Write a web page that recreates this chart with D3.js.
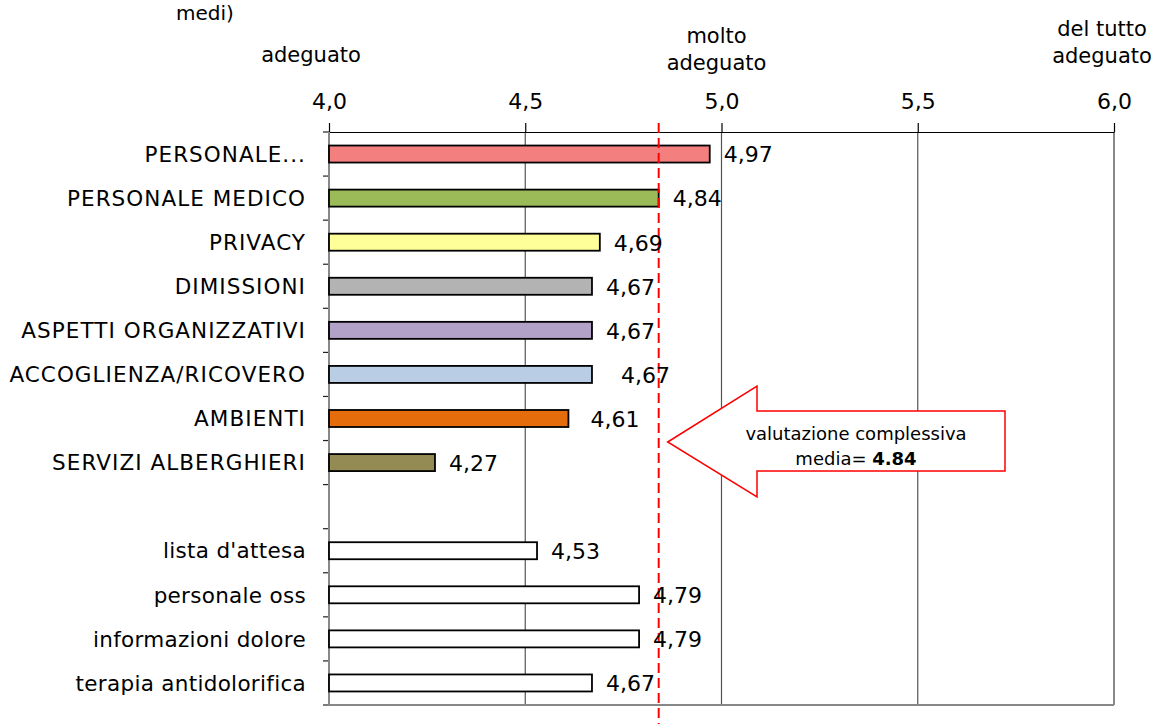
<!DOCTYPE html>
<html><head><meta charset="utf-8">
<script src="https://cdn.jsdelivr.net/npm/d3@7"></script>
<style>
html,body{margin:0;padding:0;background:#fff;}
svg{display:block;font-family:"DejaVu Sans",Verdana,sans-serif;}
</style></head>
<body><svg id="c" width="1155" height="724"></svg>
<script>
// ---- data ----
const categories = ["PERSONALE...", "PERSONALE MEDICO", "PRIVACY", "DIMISSIONI", "ASPETTI ORGANIZZATIVI",
  "ACCOGLIENZA/RICOVERO", "AMBIENTI", "SERVIZI ALBERGHIERI", "",
  "lista d'attesa", "personale oss", "informazioni dolore", "terapia antidolorifica"];
const values = [4.97, 4.84, 4.69, 4.67, 4.67, 4.67, 4.61, 4.27, null, 4.53, 4.79, 4.79, 4.67];
const colors = ["#F47F7F", "#9BBB59", "#FFFF99", "#B3B3B3", "#B3A2C7", "#B9CDE5", "#E46C0A", "#948A54", null,
  "#FFFFFF", "#FFFFFF", "#FFFFFF", "#FFFFFF"];
const labelNudge = [0, 0, 0, 0, 0, 15, 8, 0, 0, 0, 0, 0, 0];
const tickValues = [4.0, 4.5, 5.0, 5.5, 6.0];
const tickLabels = ["4,0", "4,5", "5,0", "5,5", "6,0"];
const meanValue = 4.84;
const scaleLabels = [{v: 4.0, lines: ["adeguato"]}, {v: 5.0, lines: ["molto", "adeguato"]}, {v: 6.0, lines: ["del tutto", "adeguato"]}];

// ---- layout ----
const svg = d3.select("#c");
const L = 329, R = 1114, T = 132, B = 705;
const x = d3.scaleLinear().domain([4, 6]).range([L, R]);
const keys = categories.map((c, i) => i);
const y = d3.scaleBand().domain(keys).range([T, B]).paddingInner(0.614).paddingOuter(0.307);
const step = y.step();

// title remnant
svg.append("text").attr("x", 176).attr("y", 20).attr("font-size", 20).attr("fill", "#000").text("medi)");

// gridlines
svg.append("g").selectAll("line").data(tickValues.filter(v => v > 4 && v < 6)).join("line")
  .attr("x1", d => x(d)).attr("x2", d => x(d)).attr("y1", T).attr("y2", B)
  .attr("stroke", "#555").attr("stroke-width", 1.2);
// right border
svg.append("line").attr("x1", x(6)).attr("x2", x(6)).attr("y1", T).attr("y2", B)
  .attr("stroke", "#888").attr("stroke-width", 2);

// top axis
const ax = svg.append("g").attr("transform", `translate(0,${T})`)
  .call(d3.axisTop(x).tickValues(tickValues).tickFormat((d, i) => tickLabels[i]).tickSize(9).tickSizeOuter(0).tickPadding(14));
ax.select(".domain").attr("stroke", "#000").attr("stroke-width", 1.2);
ax.selectAll(".tick line").attr("stroke", "#000").attr("stroke-width", 1.2);
ax.selectAll(".tick text").attr("font-size", 22).attr("fill", "#000").attr("font-family", "DejaVu Sans");

// scale header labels
const hdr = svg.append("g");
const hdrPos = [{dx: -18, y0: 62}, {dx: -5, y0: 43}, {dx: -12, y0: 36}];
scaleLabels.forEach((s, i) => {
  s.lines.forEach((ln, j) => {
    hdr.append("text").attr("x", x(s.v) + hdrPos[i].dx).attr("y", hdrPos[i].y0 + j * 26.5)
      .attr("text-anchor", "middle").attr("font-size", 21).attr("fill", "#000").text(ln);
  });
});

// left axis & category boundary ticks
svg.append("g").selectAll("line").data(d3.range(categories.length + 1)).join("line")
  .attr("x1", L - 6).attr("x2", L).attr("y1", d => T + d * step).attr("y2", d => T + d * step)
  .attr("stroke", "#222").attr("stroke-width", 1.2);
svg.append("line").attr("x1", L).attr("x2", L).attr("y1", T).attr("y2", B)
  .attr("stroke", "#888").attr("stroke-width", 2);
svg.append("line").attr("x1", L).attr("x2", R).attr("y1", B).attr("y2", B)
  .attr("stroke", "#888").attr("stroke-width", 2);

// category labels
svg.append("g").selectAll("text").data(keys).join("text")
  .attr("x", 306).attr("y", d => y(d) + y.bandwidth() / 2).attr("dy", "0.36em")
  .attr("text-anchor", "end").attr("font-size", 21.5)
  .attr("letter-spacing", d => categories[d] === categories[d].toUpperCase() ? 1.05 : 0.3)
  .attr("fill", "#000")
  .text(d => categories[d]);

// bars
const barData = keys.filter(i => values[i] != null);
svg.append("g").selectAll("rect").data(barData).join("rect")
  .attr("x", x(4)).attr("y", d => y(d)).attr("width", d => x(values[d]) - x(4)).attr("height", y.bandwidth())
  .attr("fill", d => colors[d]).attr("stroke", "#000").attr("stroke-width", 1.8);

// mean line
svg.append("line").attr("x1", x(meanValue)).attr("x2", x(meanValue)).attr("y1", 123).attr("y2", 724)
  .attr("stroke", "#FF0000").attr("stroke-width", 2).attr("stroke-dasharray", "10,5");

// value labels
svg.append("g").selectAll("text").data(barData).join("text")
  .attr("x", d => x(values[d]) + 14 + labelNudge[d]).attr("y", d => y(d) + y.bandwidth() / 2).attr("dy", "0.38em")
  .attr("font-size", 22).attr("fill", "#000")
  .text(d => values[d].toFixed(2).replace(".", ","));

// arrow callout
const tipX = x(meanValue) + 9, tipY = 442;
const arrowPts = [[tipX, tipY], [757, 386], [757, 411], [1005, 411], [1005, 471], [757, 471], [757, 497]];
svg.append("path").attr("d", "M" + arrowPts.map(p => p.join(",")).join("L") + "Z")
  .attr("fill", "#fff").attr("stroke", "#FF0000").attr("stroke-width", 1.5);
svg.append("text").attr("x", 856).attr("y", 440).attr("text-anchor", "middle").attr("font-size", 18)
  .text("valutazione complessiva");
const t2 = svg.append("text").attr("x", 856).attr("y", 465).attr("text-anchor", "middle").attr("font-size", 18);
t2.append("tspan").text("media= ");
t2.append("tspan").attr("font-weight", "bold").text(String(meanValue.toFixed(2)));
</script></body></html>
